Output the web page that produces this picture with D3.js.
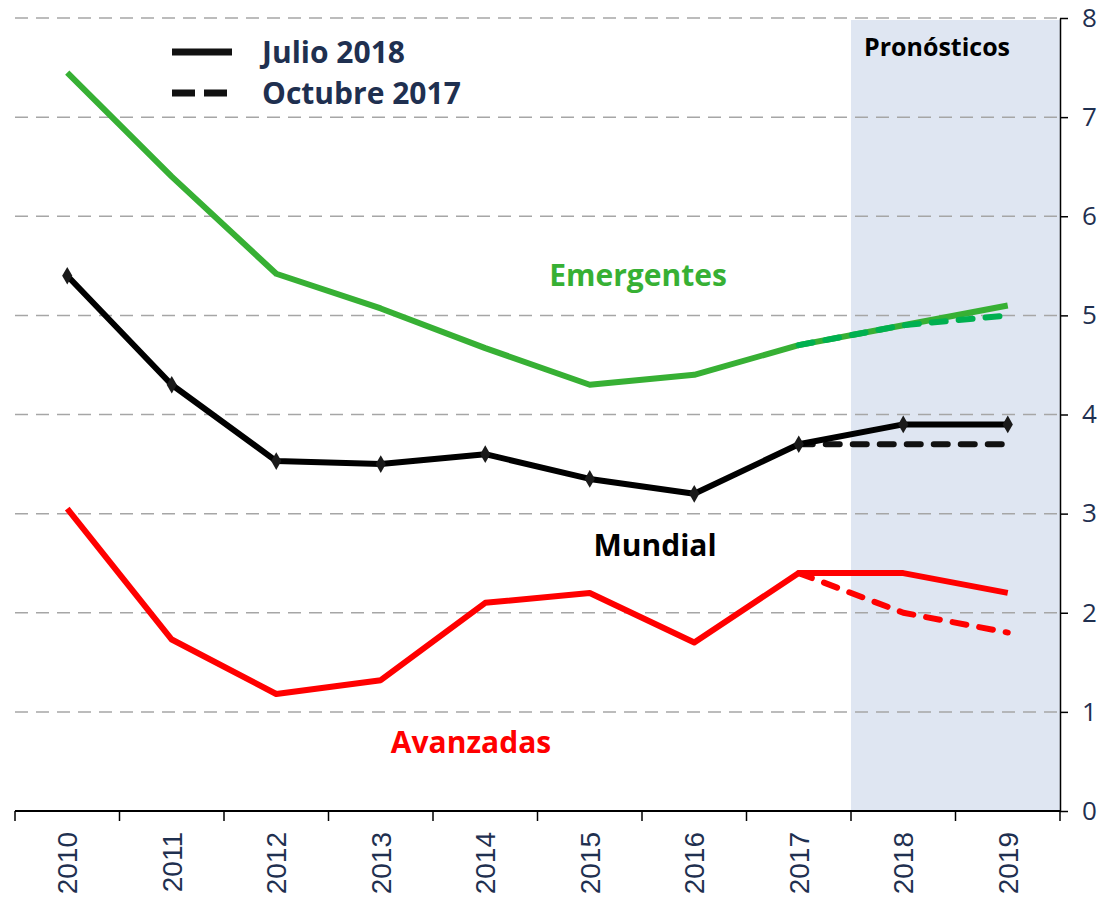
<!DOCTYPE html>
<html>
<head>
<meta charset="utf-8">
<script src="https://cdn.jsdelivr.net/npm/d3@7"></script>
<style>
  body { margin: 0; background: #fff; }
  svg { display: block; }
  .lbl { font-family: "Open Sans", "Noto Sans", sans-serif; font-weight: bold; }
</style>
</head>
<body>
<svg class="main" width="1114" height="907"></svg>
<script>
var YEARS = ["2010", "2011", "2012", "2013", "2014", "2015", "2016", "2017", "2018", "2019"];
var FORECAST_YEARS = ["2018", "2019"];
var Y_TICKS = [0, 1, 2, 3, 4, 5, 6, 7, 8];

// Julio 2018
var EMERGENTES = [7.45, 6.4, 5.42, 5.07, 4.67, 4.3, 4.4, 4.7, 4.9, 5.1];
var MUNDIAL = [5.4, 4.3, 3.53, 3.5, 3.6, 3.35, 3.2, 3.7, 3.9, 3.9];
var AVANZADAS = [3.05, 1.73, 1.18, 1.32, 2.1, 2.2, 1.7, 2.4, 2.4, 2.2];

// Octubre 2017 (2017-2019 only)
var OCT_YEARS = ["2017", "2018", "2019"];
var EMERGENTES_OCT = [4.7, 4.9, 5.0];
var MUNDIAL_OCT = [3.7, 3.7, 3.7];
var AVANZADAS_OCT = [2.4, 2.0, 1.8];

var NAVY = "#1F3050";

function main() {
  var svg = d3.select("svg.main");
  var left = 15, right = 1060, top = 18, bottom = 811;

  var x = d3.scaleBand().domain(YEARS).range([left, right]).padding(0);
  var y = d3.scaleLinear().domain([0, 8]).range([bottom, top]);
  var cx = function(d) { return x(d) + x.bandwidth() / 2; };

  // forecast shade
  svg.append("rect")
    .attr("x", x(FORECAST_YEARS[0]))
    .attr("y", y(8) + 2)
    .attr("width", right - x(FORECAST_YEARS[0]))
    .attr("height", y(0) - y(8) - 2)
    .attr("fill", "#DFE6F2");

  // gridlines
  svg.append("g")
    .selectAll("line")
    .data(Y_TICKS.filter(function(d) { return d > 0; }))
    .join("line")
    .attr("x1", left).attr("x2", right)
    .attr("y1", function(d) { return y(d); })
    .attr("y2", function(d) { return y(d); })
    .attr("stroke", "#A6A6A6")
    .attr("stroke-width", 1.5)
    .attr("stroke-dasharray", "13,8");

  // right axis
  var yAxis = svg.append("g")
    .attr("transform", "translate(" + right + ",0)")
    .call(d3.axisRight(y).tickValues(Y_TICKS).tickSize(8).tickPadding(14).tickSizeOuter(0));
  yAxis.select(".domain").attr("stroke", "#000").attr("stroke-width", 1.5);
  yAxis.selectAll(".tick line").attr("stroke", "#000").attr("stroke-width", 1.5);
  yAxis.selectAll("text")
    .attr("fill", NAVY)
    .style("font-family", "'Open Sans', sans-serif")
    .style("font-size", "26px");

  // bottom axis: ticks at band edges
  var xAxis = svg.append("g").attr("transform", "translate(0," + bottom + ")");
  xAxis.append("line")
    .attr("x1", left).attr("x2", right)
    .attr("stroke", "#000").attr("stroke-width", 2);
  var edges = YEARS.map(function(d) { return x(d); }).concat([right]);
  xAxis.selectAll("line.tk")
    .data(edges)
    .join("line")
    .attr("class", "tk")
    .attr("x1", function(d) { return d; }).attr("x2", function(d) { return d; })
    .attr("y1", 0).attr("y2", 10)
    .attr("stroke", "#000").attr("stroke-width", 1.5);
  xAxis.selectAll("text")
    .data(YEARS)
    .join("text")
    .attr("transform", function(d) { return "translate(" + (cx(d) + 10) + ",21) rotate(-90)"; })
    .attr("text-anchor", "end")
    .attr("fill", NAVY)
    .style("font-family", "'Liberation Sans', Arial, sans-serif")
    .style("font-size", "28px")
    .text(function(d) { return d; });

  var line = d3.line()
    .x(function(d) { return cx(d[0]); })
    .y(function(d) { return y(d[1]); });

  function drawSeries(years, values, color, dashed) {
    svg.append("path")
      .datum(d3.zip(years, values))
      .attr("d", line)
      .attr("fill", "none")
      .attr("stroke", color)
      .attr("stroke-width", 6)
      .attr("stroke-linecap", dashed ? "round" : "butt")
      .attr("stroke-linejoin", "round")
      .attr("stroke-dasharray", dashed ? "14,13" : null);
  }

  // dashed (Octubre 2017)
  drawSeries(OCT_YEARS, MUNDIAL_OCT, "#111", true);
  drawSeries(OCT_YEARS, AVANZADAS_OCT, "#FF0000", true);

  // solid (Julio 2018)
  drawSeries(YEARS, AVANZADAS, "#FF0000", false);
  drawSeries(YEARS, EMERGENTES, "#37B034", false);
  drawSeries(OCT_YEARS, EMERGENTES_OCT, "#00B050", true);
  drawSeries(YEARS, MUNDIAL, "#000", false);

  // diamond markers on Mundial
  svg.append("g")
    .selectAll("path")
    .data(d3.zip(YEARS, MUNDIAL))
    .join("path")
    .attr("transform", function(d) { return "translate(" + cx(d[0]) + "," + y(d[1]) + ")"; })
    .attr("d", d3.symbol(d3.symbolDiamond, 90))
    .attr("fill", "#1a1a1a");

  // series labels
  var labels = [
    { text: "Emergentes", x: 638, y: 286, color: "#37B034" },
    { text: "Mundial", x: 655, y: 556, color: "#000" },
    { text: "Avanzadas", x: 471, y: 753, color: "#FF0000" }
  ];
  svg.append("g")
    .selectAll("text")
    .data(labels)
    .join("text")
    .attr("class", "lbl")
    .attr("x", function(d) { return d.x; })
    .attr("y", function(d) { return d.y; })
    .attr("text-anchor", "middle")
    .attr("fill", function(d) { return d.color; })
    .style("font-size", "30px")
    .text(function(d) { return d.text; });

  svg.append("text")
    .attr("class", "lbl")
    .attr("x", 937).attr("y", 56)
    .attr("text-anchor", "middle")
    .attr("fill", "#000")
    .style("font-size", "25px")
    .text("Pronósticos");

  // legend
  var legend = svg.append("g");
  var items = [
    { text: "Julio 2018", dashed: false, y: 52 },
    { text: "Octubre 2017", dashed: true, y: 93 }
  ];
  items.forEach(function(it) {
    legend.append("line")
      .attr("x1", 172).attr("x2", 232)
      .attr("y1", it.y).attr("y2", it.y)
      .attr("stroke", "#111")
      .attr("stroke-width", 7)
      .attr("stroke-dasharray", it.dashed ? "23,9" : null);
    legend.append("text")
      .attr("class", "lbl")
      .attr("x", 262).attr("y", it.y + 11)
      .attr("fill", NAVY)
      .style("font-size", "30px")
      .text(it.text);
  });
}

main();
</script>
</body>
</html>
